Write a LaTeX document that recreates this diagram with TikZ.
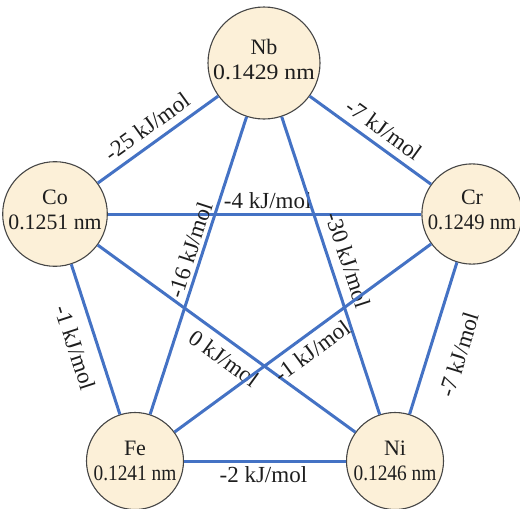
\documentclass[tikz,border=0pt]{standalone}
\usepackage{graphicx}
\usepackage{fontspec}
\setmainfont{Liberation Serif}
\definecolor{edgeblue}{RGB}{68,114,196}
\definecolor{cream}{RGB}{252,240,216}
\definecolor{rim}{RGB}{70,70,70}
\definecolor{ink}{RGB}{30,30,30}
\tikzset{
  atom/.style={circle, draw=rim, line width=1.1pt, fill=cream, inner sep=0pt,
    minimum size=97pt, align=center, text=ink, font=\fontsize{22}{25}\selectfont},
  bigatom/.style={atom, minimum size=112pt},
  bond/.style={draw=edgeblue, line width=3pt},
  elab/.style={font=\fontsize{23}{27}\selectfont, inner sep=0pt, sloped, text=ink},
}
\begin{document}
\begin{tikzpicture}[x=1pt,y=-1pt]
\useasboundingbox (0,0) rectangle (520,509);
\node[bigatom, text depth=7pt] (Nb) at (264,63) {Nb\\\scalebox{1.08}[1]{0.1429 nm}};
\node[atom, text depth=8pt] (Co) at (55,214) {Co\\\scalebox{0.99}[1]{0.1251 nm}};
\node[atom, text depth=8pt] (Cr) at (472,214) {Cr\\\scalebox{0.94}[1]{0.1249 nm}};
\node[atom] (Fe) at (135,461) {Fe\\\scalebox{0.88}[1]{0.1241 nm}};
\node[atom] (Ni) at (395,461) {Ni\\\scalebox{0.88}[1]{0.1246 nm}};

\draw[bond] (Co) -- node[elab, pos=0.49, above=7.4pt] {-25 kJ/mol} (Nb);
\draw[bond] (Nb) -- node[elab, pos=0.53, above=7pt] {-7 kJ/mol} (Cr);
\draw[bond] (Co) -- node[elab, pos=0.51, above=3.5pt] {-4 kJ/mol} (Cr);
\draw[bond] (Fe) -- node[elab, pos=0.54, above=3pt] {-16 kJ/mol} (Nb);
\draw[bond] (Nb) -- node[elab, pos=0.50, above=9pt] {-30 kJ/mol} (Ni);
\draw[bond] (Co) -- node[elab, pos=0.53, below=8pt] {0 kJ/mol} (Ni);
\draw[bond] (Fe) -- node[elab, pos=0.50, below=6.3pt] {-1 kJ/mol} (Cr);
\draw[bond] (Co) -- node[elab, pos=0.51, below=12pt] {-1 kJ/mol} (Fe);
\draw[bond] (Cr) -- node[elab, pos=0.55, below=20pt] {-7 kJ/mol} (Ni);
\draw[bond] (Fe) -- node[elab, pos=0.49, below=4pt] {-2 kJ/mol} (Ni);
\end{tikzpicture}
\end{document}
